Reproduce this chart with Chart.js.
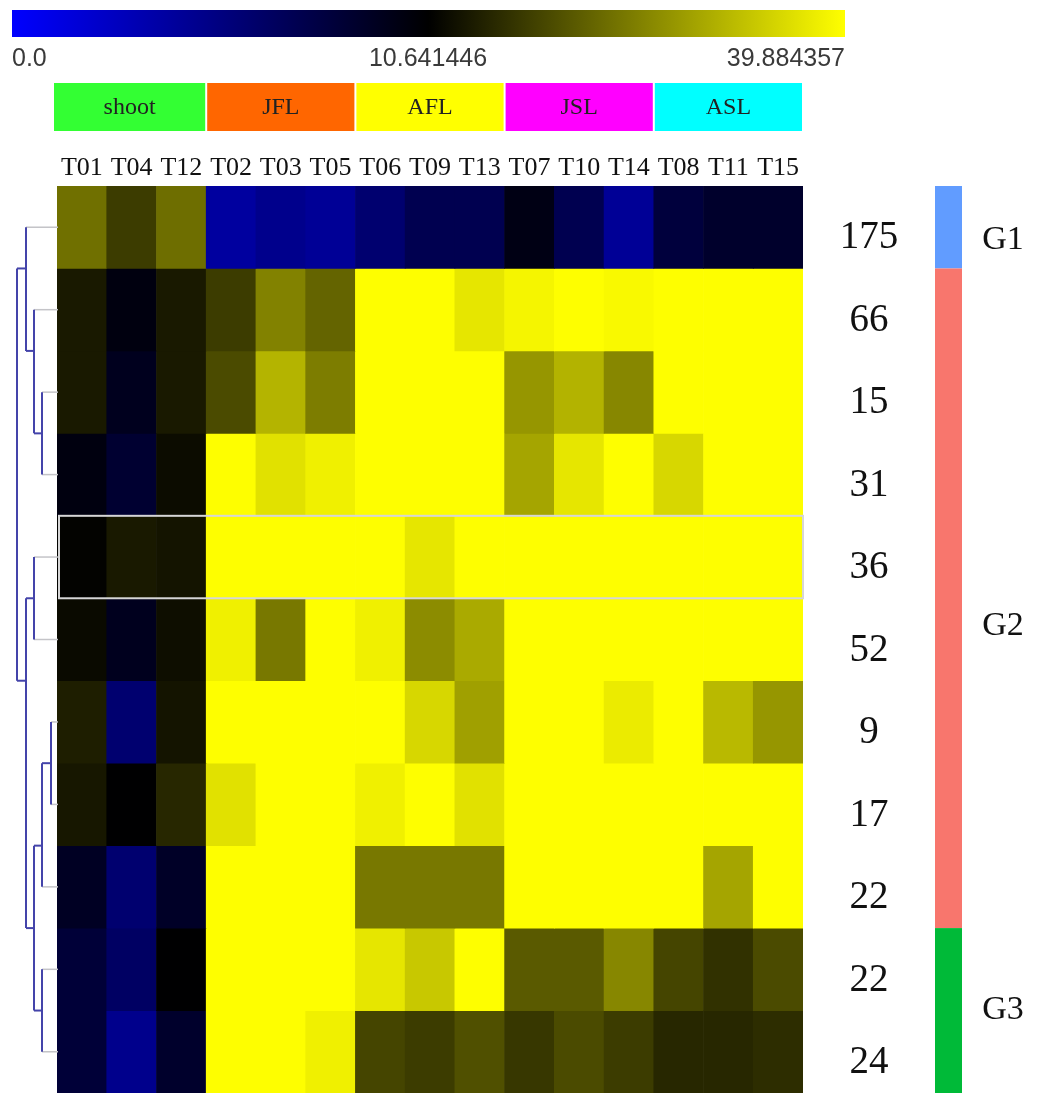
<!DOCTYPE html>
<html>
<head>
<meta charset="utf-8">
<title>heatmap</title>
<script src="https://cdn.jsdelivr.net/npm/chart.js@4.4.1/dist/chart.umd.min.js"></script>
<style>
html, body { margin: 0; padding: 0; background: #fff; }
#wrap { position: relative; width: 1047px; height: 1095px; }
#wrap canvas { position: absolute; left: 0; top: 0; }
</style>
</head>
<body>
<div id="wrap">
	<canvas id="heat" width="1047" height="1095"></canvas>
	<canvas id="dendro" width="60" height="1095"></canvas>
</div>
<script>
var columns = ['T01','T04','T12','T02','T03','T05','T06','T09','T13','T07','T10','T14','T08','T11','T15'];
var tissues = ['shoot','JFL','AFL','JSL','ASL'];
var tissueSpan = [3,3,3,3,3];
var tissueColors = ['#33ff33','#ff6600','#ffff00','#ff00ff','#00ffff'];
var rowSizes = ['175','66','15','31','36','52','9','17','22','22','24'];

// one array per row, columns in the order above
var values = [
	[23.5,17.5,23.3, 4.0, 4.8, 4.4, 6.0, 7.3, 7.3, 9.8, 7.3, 4.4, 8.1, 8.8, 8.8],
	[13.5,10.0,13.5,17.5,25.6,22.1,39.8,39.8,37.0,38.7,39.8,39.2,39.8,39.8,39.8],
	[13.5, 9.4,13.5,19.2,31.3,25.0,39.8,39.8,39.8,27.8,31.2,26.1,39.8,39.8,39.8],
	[10.0, 8.6,12.0,39.8,36.4,38.2,39.8,39.8,39.8,29.6,37.0,39.8,35.3,39.8,39.8],
	[11.0,13.5,12.9,39.8,39.8,39.8,39.8,37.0,39.8,39.8,39.8,39.8,39.8,39.8,39.8],
	[11.8, 9.4,12.2,38.2,24.4,39.8,38.2,26.7,30.1,39.8,39.8,39.8,39.8,39.8,39.8],
	[14.1, 6.0,12.9,39.8,39.8,39.8,39.8,35.3,29.0,39.8,39.8,37.6,39.8,31.9,27.8],
	[13.3,10.6,15.1,36.4,39.8,39.8,38.2,39.8,36.4,39.8,39.8,39.8,39.8,39.8,39.8],
	[ 9.2, 6.0, 9.0,39.8,39.8,39.8,24.4,24.4,24.4,39.8,39.8,39.8,39.8,29.6,39.8],
	[ 8.3, 6.5,10.6,39.8,39.8,39.8,37.0,33.6,39.8,21.0,21.0,26.1,18.6,16.3,19.2],
	[ 8.3, 4.8, 8.8,39.8,39.8,38.2,18.6,17.5,19.8,17.0,19.2,17.5,15.1,15.1,15.8]
];

var scaleTicks = [0.0, 10.641446, 39.884357];
var scaleLabels = ['0.0', '10.641446', '39.884357'];

var clusters = ['G1','G2','G3'];
var clusterRows = [1, 8, 2];
var clusterColors = ['#619cff','#f8766d','#00ba38'];

// [node, left child, right child, height]; numbers are row indexes
var dendroNodes = [
	['C', 2, 3, 1.6],
	['B', 1, 'C', 2.4],
	['A', 0, 'B', 3.2],
	['H', 6, 7, 0.7],
	['G', 'H', 8, 1.6],
	['I', 9, 10, 1.6],
	['F', 'G', 'I', 2.4],
	['E', 4, 5, 2.4],
	['D', 'E', 'F', 3.2],
	['root', 'A', 'D', 4.1]
];

function cellColor(v) {
	var lo = scaleTicks[0], mid = scaleTicks[1], hi = scaleTicks[2];
	var t, c;
	if (v <= mid) {
		t = (v - lo) / (mid - lo);
		return 'rgb(0,0,' + Math.round(255 * (1 - t)) + ')';
	}
	t = Math.min(1, (v - mid) / (hi - mid));
	c = Math.round(255 * t);
	return 'rgb(' + c + ',' + c + ',0)';
}

var heatDatasets = values.map(function(row, r) {
	return {
		data: row.map(function() { return [r, r + 1]; }),
		backgroundColor: row.map(cellColor),
		borderWidth: 0,
		grouped: false,
		barPercentage: 1,
		categoryPercentage: 1
	};
});

var decorPlugin = {
	id: 'decor',
	beforeDraw: function(chart) {
		var ctx = chart.ctx;
		ctx.save();
		ctx.fillStyle = '#ffffff';
		ctx.fillRect(0, 0, chart.width, chart.height);
		ctx.restore();
	},
	afterDraw: function(chart) {
		var ctx = chart.ctx;
		var xs = chart.scales.x, ys = chart.scales.y;
		var area = chart.chartArea;
		var cw = (area.right - area.left) / columns.length;
		var i, x0, x1, y0, y1, start;

		ctx.save();

		// colour key
		var g = ctx.createLinearGradient(12, 0, 845, 0);
		g.addColorStop(0, cellColor(scaleTicks[0]));
		g.addColorStop(0.5, cellColor(scaleTicks[1]));
		g.addColorStop(1, cellColor(scaleTicks[2]));
		ctx.fillStyle = g;
		ctx.fillRect(12, 10, 833, 27);
		ctx.fillStyle = '#3a3a3a';
		ctx.font = '25px "Liberation Sans"';
		ctx.textBaseline = 'middle';
		ctx.textAlign = 'left';
		ctx.fillText(scaleLabels[0], 12, 59);
		ctx.textAlign = 'center';
		ctx.fillText(scaleLabels[1], 428, 59);
		ctx.textAlign = 'right';
		ctx.fillText(scaleLabels[2], 845, 59);

		// tissue header
		start = 0;
		ctx.font = '24px "Liberation Serif"';
		ctx.textAlign = 'center';
		for (i = 0; i < tissues.length; i++) {
			x0 = xs.getPixelForValue(start) - cw / 2;
			x1 = xs.getPixelForValue(start + tissueSpan[i] - 1) + cw / 2;
			if (i === 0) x0 -= 4;
			ctx.fillStyle = tissueColors[i];
			ctx.fillRect(x0 + 1, 83, x1 - x0 - 2, 48);
			ctx.fillStyle = '#222';
			ctx.fillText(tissues[i], (x0 + x1) / 2, 108);
			start += tissueSpan[i];
		}

		// column labels
		ctx.font = '26px "Liberation Serif"';
		ctx.fillStyle = '#111';
		for (i = 0; i < columns.length; i++) {
			ctx.fillText(columns[i], xs.getPixelForValue(i), 168);
		}

		// highlighted row box
		ctx.strokeStyle = '#d6d6d6';
		ctx.lineWidth = 2;
		y0 = ys.getPixelForValue(4);
		y1 = ys.getPixelForValue(5);
		ctx.strokeRect(area.left + 2, y0, area.right - area.left - 2, y1 - y0);

		// row labels
		ctx.font = '39px "Liberation Serif"';
		ctx.fillStyle = '#111';
		for (i = 0; i < rowSizes.length; i++) {
			ctx.fillText(rowSizes[i], 869, ys.getPixelForValue(i + 0.5) + 11);
		}

		// cluster bar
		start = 0;
		ctx.font = '34px "Liberation Serif"';
		var labelShift = [13, 28, 0];
		for (i = 0; i < clusters.length; i++) {
			y0 = ys.getPixelForValue(start);
			y1 = ys.getPixelForValue(start + clusterRows[i]);
			ctx.fillStyle = clusterColors[i];
			ctx.fillRect(935, y0, 27, y1 - y0);
			ctx.fillStyle = '#111';
			ctx.fillText(clusters[i], 1003, (y0 + y1) / 2 + labelShift[i]);
			start += clusterRows[i];
		}

		ctx.restore();
	}
};

new Chart(document.getElementById('heat'), {
	type: 'bar',
	data: { labels: columns, datasets: heatDatasets },
	options: {
		responsive: false,
		animation: false,
		layout: { padding: { left: 57, right: 244, top: 186, bottom: 2 } },
		plugins: { legend: { display: false }, tooltip: { enabled: false } },
		scales: {
			x: { type: 'category', display: false },
			y: { type: 'linear', min: 0, max: 11, reverse: true, display: false }
		}
	},
	plugins: [decorPlugin]
});

// dendrogram
var nodeInfo = {};
var segments = [];
function nodeOf(k) {
	if (typeof k === 'number') return { x: 0, y: k + 0.5, first: k, last: k, leaf: true };
	return nodeInfo[k];
}
dendroNodes.forEach(function(n) {
	var L = nodeOf(n[1]), R = nodeOf(n[2]), h = n[3];
	segments.push({ pts: [{ x: h, y: L.y }, { x: h, y: R.y }], leaf: false });
	segments.push({ pts: [{ x: h, y: L.y }, { x: L.x, y: L.y }], leaf: L.leaf });
	segments.push({ pts: [{ x: h, y: R.y }, { x: R.x, y: R.y }], leaf: R.leaf });
	nodeInfo[n[0]] = { x: h, y: L.last + 1, first: L.first, last: R.last, leaf: false };
});

new Chart(document.getElementById('dendro'), {
	type: 'scatter',
	data: {
		datasets: segments.map(function(s) {
			return {
				data: s.pts,
				showLine: true,
				pointRadius: 0,
				borderWidth: s.leaf ? 1.5 : 2,
				borderColor: s.leaf ? '#c4c4c8' : '#4444aa',
				clip: false
			};
		})
	},
	options: {
		responsive: false,
		animation: false,
		layout: { padding: { left: 0, right: 2, top: 186, bottom: 2 } },
		plugins: { legend: { display: false }, tooltip: { enabled: false } },
		scales: {
			x: { type: 'linear', min: 0, max: 5.8, reverse: true, display: false },
			y: { type: 'linear', min: 0, max: 11, reverse: true, display: false }
		}
	}
});
</script>
</body>
</html>
